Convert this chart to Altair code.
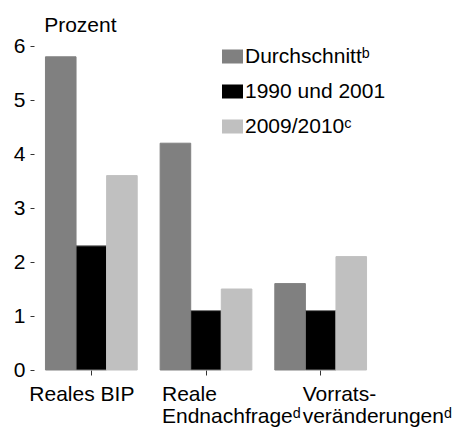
import json
import altair as alt
import pandas as pd

# ---- data ----
categories = ["Reales BIP", "Reale Endnachfrage", "Vorratsveränderungen"]
category_labels = [
    ["Reales BIP"],
    ["Reale", "Endnachfrageᵈ"],
    ["\u2007Vorrats-", "veränderungenᵈ"],
]
series = ["Durchschnittᵇ", "1990 und 2001", "2009/2010ᶜ"]
values_durchschnitt = [5.8, 4.2, 1.6]
values_1990_2001 = [2.3, 1.1, 1.1]
values_2009_2010 = [3.6, 1.5, 2.1]
y_ticks = [0, 1, 2, 3, 4, 5, 6]

colors = ["#808080", "#000000", "#c0c0c0"]
strokes = ["#808080", "#7a7a7a", "#c0c0c0"]

rows = []
for s, vals in zip(series, [values_durchschnitt, values_1990_2001, values_2009_2010]):
    for c, v in zip(categories, vals):
        rows.append({"Kategorie": c, "Reihe": s, "Wert": v})
df = pd.DataFrame(rows)

FONT = "Liberation Sans, Arial, sans-serif"
FS = 21

label_map = "{" + ",".join(
    json.dumps(c) + ":" + json.dumps(l) for c, l in zip(categories, category_labels)
) + "}"
offsets = [-62, -44, -18]
offset_expr = " : ".join(
    f"datum.value === {json.dumps(c)} ? {o}" for c, o in zip(categories[:-1], offsets[:-1])
) + f" : {offsets[-1]}"

chart = alt.Chart(df).mark_bar(strokeWidth=1).encode(
    x=alt.X(
        "Kategorie:N",
        sort=categories,
        scale=alt.Scale(paddingInner=0.2, paddingOuter=0.1),
        axis=alt.Axis(
            title=None,
            domain=False,
            labelAngle=0,
            labelAlign="left",
            labelBaseline="top",
            labelExpr=f"{label_map}[datum.value]",
            labelOffset=alt.ExprRef(offset_expr),
            labelPadding=8,
            labelLineHeight=22,
            labelFont=FONT,
            labelFontSize=FS,
            labelColor="#000000",
            tickSize=5,
            tickColor="#333333",
            tickWidth=1,
        ),
    ),
    xOffset=alt.XOffset("Reihe:N", sort=series, scale=alt.Scale(paddingInner=0, paddingOuter=0)),
    y=alt.Y(
        "Wert:Q",
        scale=alt.Scale(domain=[0, 6], nice=False),
        axis=alt.Axis(
            values=y_ticks,
            grid=False,
            domain=False,
            title="Prozent",
            titleAngle=0,
            titleAlign="right",
            titleBaseline="alphabetic",
            titleX=82,
            titleY=-15,
            titleFont=FONT,
            titleFontSize=FS,
            titleFontWeight="normal",
            titleColor="#000000",
            labelFont=FONT,
            labelFontSize=FS,
            labelColor="#000000",
            labelPadding=5,
            tickSize=4,
            tickColor="#333333",
            tickWidth=1,
        ),
    ),
    fill=alt.Fill(
        "Reihe:N",
        sort=series,
        scale=alt.Scale(domain=series, range=colors),
        legend=alt.Legend(
            title=None,
            orient="none",
            legendX=188,
            legendY=0,
            symbolType="M-1,-0.667H1V0.667H-1Z",
            symbolSize=441,
            symbolStrokeWidth=0,
            symbolOpacity=1,
            labelFont=FONT,
            labelFontSize=FS,
            labelColor="#000000",
            labelOffset=2,
            rowPadding=13,
            padding=0,
        ),
    ),
    stroke=alt.Stroke(
        "Reihe:N", sort=series, scale=alt.Scale(domain=series, range=strokes), legend=None
    ),
).properties(
    width=344,
    height=324,
    autosize=alt.AutoSizeParams(type="none"),
    padding={"left": 26, "top": 38, "right": 74, "bottom": 62},
    background="white",
).configure_view(stroke=None)

chart.save("out.html", embed_options={"renderer": "svg", "actions": False})
